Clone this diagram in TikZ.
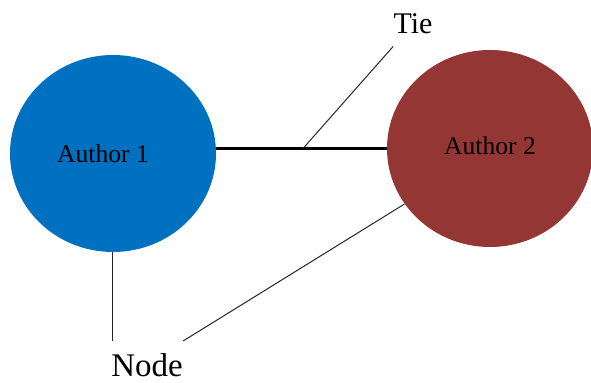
\documentclass[tikz,border=0pt]{standalone}
\usepackage{fontspec}
\setmainfont{Liberation Serif}
\usetikzlibrary{calc, shapes.geometric}
\definecolor{authblue}{RGB}{0,112,192}
\definecolor{authred}{RGB}{148,54,52}

\begin{document}
\begin{tikzpicture}[x=0.5pt,y=-0.5pt,
    author/.style={ellipse,inner sep=0pt,minimum width=103pt,minimum height=98.5pt,font=\fontsize{12.8}{15}\selectfont},
    lbl/.style={inner xsep=0pt,inner ysep=6pt,font=\fontsize{16.5}{19}\selectfont},
    tie/.style={line width=1.3pt},
    pointer/.style={line width=0.5pt,black!85}]
            \useasboundingbox (0,0) rectangle (591,383);
            \node[author,fill=authblue] (a1) at (113,153.5) {Author 1\hspace*{10pt}};
            \node[author,fill=authred] (a2) at (490,148.5) {\raisebox{3pt}{Author 2}};
            \node[lbl,font=\fontsize{15}{18}\selectfont] (tie) at (413,24) {Tie};
            \node[lbl] (nd) at (147,365) {Node};
            \coordinate (tiept) at (303,148.5);
            \draw[tie] (a1.east |- a2.west)--(a2.west);
            \draw[pointer] (tie.south west)--(tiept);
            \draw[pointer] (a1.south)--(a1.south |- nd.north);
            \draw[pointer] (nd.north east)--(a2.213);
        \end{tikzpicture}
\end{document}
